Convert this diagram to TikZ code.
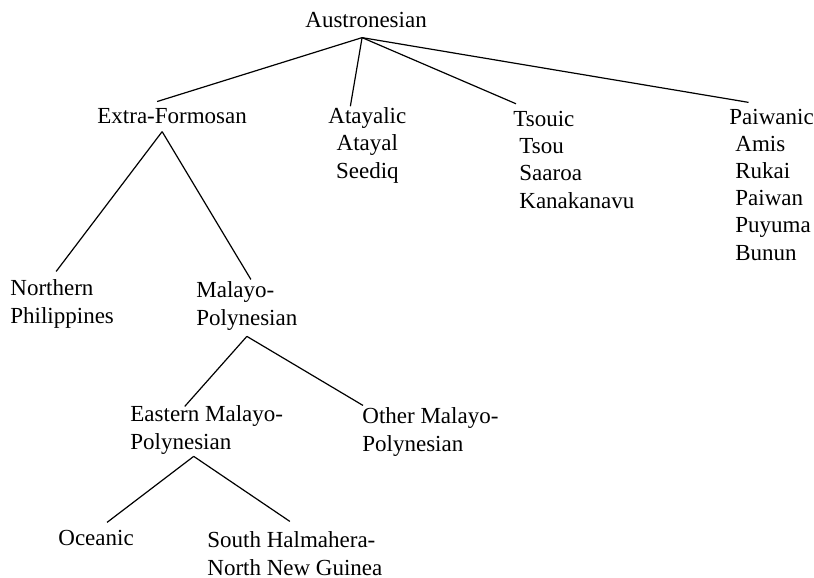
\documentclass[tikz,border=0pt]{standalone}
\usepackage{fontspec}
\setmainfont{Liberation Serif}
\usetikzlibrary{positioning}
\tikzstyle{lang}=[%
      inner sep=0pt, anchor=base west, align=left,
      font=\fontsize{11.5}{13.6}\selectfont
]
\tikzstyle{branch}=[%
      line width=0.6pt
]
\newcommand{\ind}{\hspace*{3pt}}

\begin{document}
\begin{tikzpicture}[x=0.5pt, y=-0.5pt]
    \useasboundingbox (0,0) rectangle (814,578);

    % nodes placed at the baseline of their last line
    \node[lang] (root)     at (305,27)  {Austronesian};
    \node[lang] (extra)    at (97,123)  {Extra-Formosan};
    \node[lang, align=center] (atayalic) at (328,178) {Atayalic\\Atayal\\Seediq};
    \node[lang] (tsouic)   at (513,208) {Tsouic\\\ind Tsou\\\ind Saaroa\\\ind Kanakanavu};
    \node[lang] (paiwanic) at (729,260) {Paiwanic\\\ind Amis\\\ind Rukai\\\ind Paiwan\\\ind Puyuma\\\ind Bunun};
    \node[lang] (northern) at (10,323)  {Northern\\Philippines};
    \node[lang] (malayo)   at (196,325) {Malayo-\\Polynesian};
    \node[lang] (eastern)  at (130,449) {Eastern Malayo-\\Polynesian};
    \node[lang] (other)    at (362,451) {Other Malayo-\\Polynesian};
    \node[lang] (oceanic)  at (58,545)  {Oceanic};
    \node[lang] (south)    at (207,575) {South Halmahera-\\North New Guinea};

    \coordinate (rootfork)    at ([shift={(-4,10)}]root.south);
    \coordinate (extrafork)   at ([shift={(-10,8)}]extra.south);
    \coordinate (malayofork)  at ([shift={(0,6)}]malayo.south);
    \coordinate (easternfork) at ([shift={(-13,2)}]eastern.south);

    \path[branch] (rootfork) edge ([shift={(-15,-6)}]extra.north)
          (rootfork) edge ([shift={(-17,-1)}]atayalic.north)
          (rootfork) edge ([shift={(3,-7)}]tsouic.north west)
          (rootfork) edge ([shift={(-23,-6)}]paiwanic.north)
          (extrafork) edge ([shift={(-6,-8)}]northern.north)
          (extrafork) edge ([shift={(4,-2)}]malayo.north)
          (malayofork) edge ([shift={(-22,1)}]eastern.north)
          (malayofork) edge ([shift={(1,-2)}]other.north west)
          (easternfork) edge ([shift={(11,-7)}]oceanic.north)
          (easternfork) edge ([shift={(-5,-10)}]south.north)
    ;

\end{tikzpicture}
\end{document}
